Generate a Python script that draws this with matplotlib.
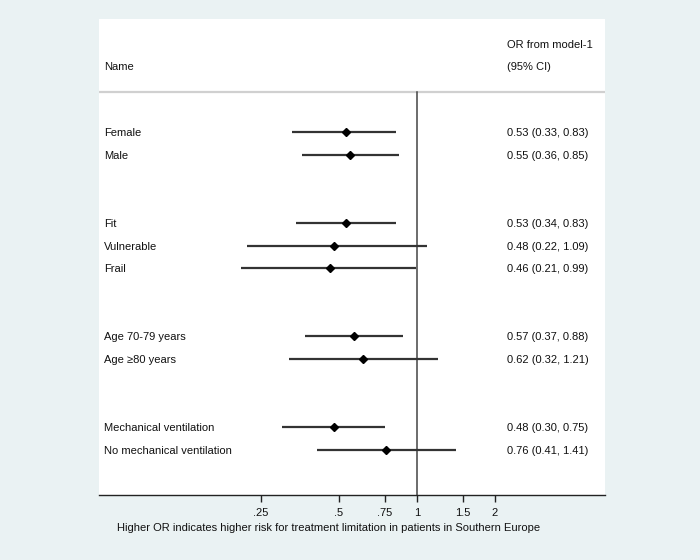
import numpy as np
import matplotlib
matplotlib.use('Agg')
import matplotlib.pyplot as plt

plt.rcParams['font.family'] = ['Liberation Sans', 'DejaVu Sans']

names = ["Female", "Male", "Fit", "Vulnerable", "Frail",
         "Age 70-79 years", "Age \u226580 years",
         "Mechanical ventilation", "No mechanical ventilation"]
rows = [0, 1, 4, 5, 6, 9, 10, 13, 14]
odds = [0.53, 0.55, 0.53, 0.48, 0.46, 0.57, 0.62, 0.48, 0.76]
lo = [0.33, 0.36, 0.34, 0.22, 0.21, 0.37, 0.32, 0.30, 0.41]
hi = [0.83, 0.85, 0.83, 1.09, 0.99, 0.88, 1.21, 0.75, 1.41]
ticks = [0.25, 0.5, 0.75, 1, 1.5, 2]
ticklabels = [".25", ".5", ".75", "1", "1.5", "2"]

bg = '#eaf2f3'
fig = plt.figure(figsize=(7, 5.6), dpi=100, facecolor=bg)
# white plot region 99..605 px wide, 19..495 px tall
ax = fig.add_axes([99/700, 65/560, 506/700, 476/560])
ax.set_facecolor('white')

ax.set_xscale('log')
ax.set_xlim(np.exp((99-417)/112.5), np.exp((605-417)/112.5))
ax.set_ylim(16, -5)

for r, o, l, h in zip(rows, odds, lo, hi):
    ax.plot([l, h], [r, r], color='#333333', lw=1.6, solid_capstyle='butt', zorder=3)
    ax.plot(o, r, marker='D', color='black', ms=3.6, zorder=4)

ax.plot([1, 1], [-1.76, 16], color='#444444', lw=1.1, zorder=2)
ax.axhline(-1.76, color='#d0d0d0', lw=1.6, zorder=1)

tr = ax.get_yaxis_transform()
for r, n, o, l, h in zip(rows, names, odds, lo, hi):
    ax.text(0.01, r + 0.04, n, transform=tr, fontsize=8, va='center', ha='left', color='#111111')
    ax.text(0.806, r + 0.04, "%.2f (%.2f, %.2f)" % (o, l, h), transform=tr,
            fontsize=8, va='center', ha='left', color='#111111')

ax.text(0.01, -2.88, "Name", transform=tr, fontsize=8, va='center', color='#111111')
ax.text(0.806, -3.84, "OR from model-1", transform=tr, fontsize=8, va='center', color='#111111')
ax.text(0.806, -2.88, "(95% CI)", transform=tr, fontsize=8, va='center', color='#111111')

for s in ['top', 'right', 'left']:
    ax.spines[s].set_visible(False)
ax.spines['bottom'].set_color('#222222')
ax.spines['bottom'].set_linewidth(1.0)

ax.set_xticks(ticks)
ax.set_xticklabels(ticklabels)
ax.xaxis.set_minor_locator(matplotlib.ticker.NullLocator())
ax.tick_params(axis='x', direction='out', length=5, width=1, color='#222222',
               labelsize=8, pad=4, labelcolor='#111111')
ax.set_yticks([])

fig.text(329/700, 1 - 528/560,
         "Higher OR indicates higher risk for treatment limitation in patients in Southern Europe",
         ha='center', va='center', fontsize=8, color='#111111')

fig.savefig('out.png', dpi=100, facecolor=bg)
